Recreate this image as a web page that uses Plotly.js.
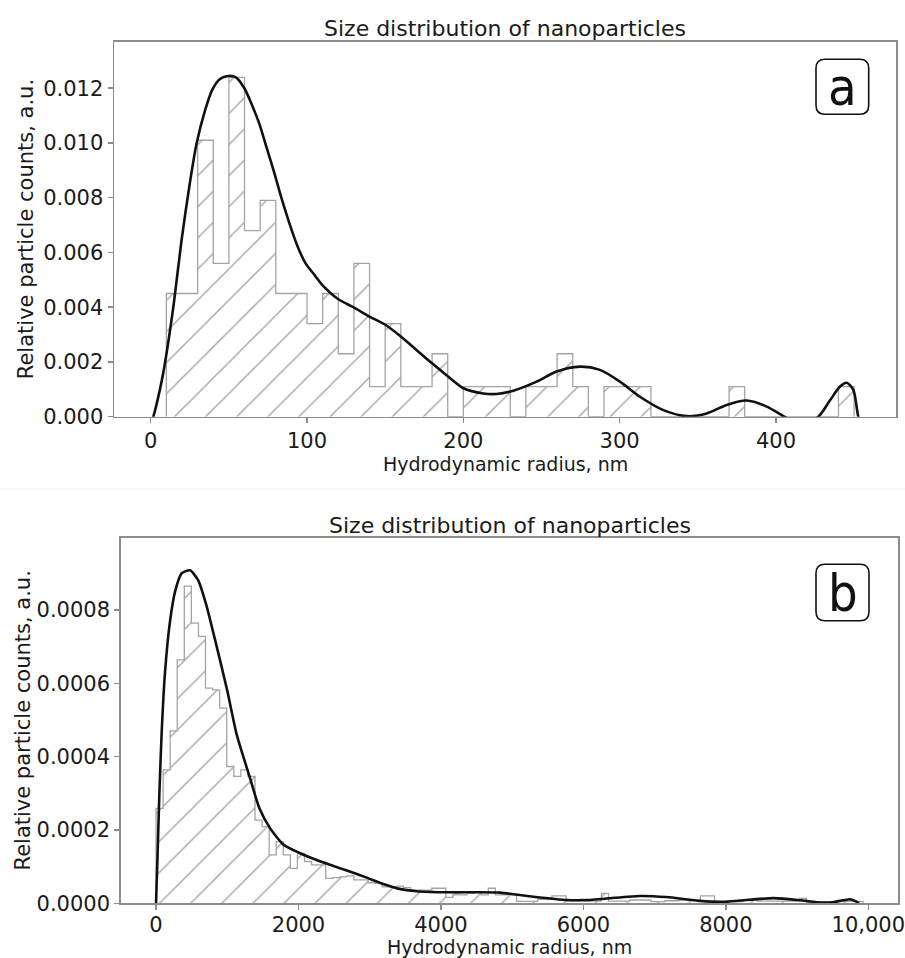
<!DOCTYPE html>
<html><head><meta charset="utf-8">
<script src="https://cdn.plot.ly/plotly-3.0.1.min.js"></script>
<style>html,body{margin:0;padding:0;background:#fff}#chart{width:905px;height:958px}</style>
</head><body><div id="chart"></div>
<script>
// ---------- Panel (a) ----------
const binWidthA = 10;
const binLeftA = [10,20,30,40,50,60,70,80,90,100,110,120,130,140,150,160,170,180,190,200,210,220,230,240,250,260,270,280,290,300,310,320,330,340,350,360,370,380,390,400,410,420,430,440];
const densityA = [0.0045,0.0045,0.0101,0.0056,0.0124,0.0068,0.0079,0.0045,0.0045,0.0034,0.0045,0.0023,0.0056,0.0011,0.0034,0.0011,0.0011,0.0023,0,0.0011,0.0011,0.0011,0,0.0011,0.0011,0.0023,0.0011,0,0.0011,0.0011,0.0011,0,0,0,0,0,0.0011,0,0,0,0,0,0,0.0011];
const kdeXA = [0,1.7,7,9.8,14.9,19.6,25.2,29.4,34.8,39.4,44.3,49.5,54.5,59.9,64.7,69.5,74.3,79.1,84.1,89.1,94.1,99.1,104.5,110,119.8,129.6,139.9,150.3,160,170,180,190.4,200,212.8,221.3,232,246.9,259.7,274.6,287.4,300.2,313,328,342.9,355.7,368.5,381.3,394.1,404.8,416,427.1,434.6,441,445.2,449.5,452.7,455];
const kdeYA = [-0.0003,0,0.0013,0.0022,0.0042,0.0064,0.0086,0.0100,0.0112,0.01195,0.01234,0.01245,0.0124,0.0120,0.0114,0.0107,0.0098,0.0089,0.0079,0.0070,0.0062,0.0056,0.0052,0.0048,0.0043,0.0040,0.00366,0.00335,0.00293,0.00244,0.00195,0.00146,0.00104,0.00085,0.00083,0.00095,0.00128,0.00165,0.00183,0.00171,0.00128,0.00073,0.00024,0.00002,0.00012,0.00043,0.00059,0.00037,0.00002,-0.0003,0,0.0006,0.0011,0.00124,0.00098,0,-0.0003];
const tickValsA = [0,100,200,300,400];
const tickTextA = ['0','100','200','300','400'];

// ---------- Panel (b) ----------
const binWidthB = 99.25;
const densityB = [0.000259,0.000364,0.00047,0.000664,0.000865,0.000764,0.000728,0.000587,0.000582,0.000532,
0.000373,0.000346,0.000364,0.000346,0.000227,0.000209,0.000132,0.000168,0.000132,0.000095,
0.000136,0.000114,0.000105,0.000105,0.000068,0.00007,0.000072,0.000075,0.000064,0.000064,
0.000056,0.000055,0.000045,0.000045,0.000047,0.000043,0.000036,0.000036,0.000036,0.000041,
0.000041,0.000016,0.000023,0.000023,0.000027,0.000029,0.000023,0.000041,0.000023,0.000023,
0.000023,0.000005,0.000005,0.000005,0.000011,0.000011,0.00002,0.00002,0.000007,0.000007,
0.000011,0.000006,0.000006,0.000027,0.000006,0.000006,0.000006,0.000009,0.000009,0.000009,
0.0000045,0.0000045,0.000007,0.000007,0.000009,0.000009,0.000009,0.00002,0.00002,0.0000045,
0.0000045,0.0000045,0.0000045,0.000009,0.000009,0.000006,0.000006,0.000006,0.000006,0.000006,
0.000006,0.0000136,0.000003,0.000003,0.000003,0.000003,0.0000055,0.0000055,0.0000055,0.0000055];
const kdeXB = [0,20,47,80,126,197,267,360,477,594,711,852,1000,1133,1306,1450,1600,1788,2008,2200,2443,2700,2957,3200,3400,3660,4127,4500,4830,5297,5765,6000,6326,6794,7165,7637,7965,8199,8667,9041,9275,9500,9744,9838,9870];
const kdeYB = [0,0.00012,0.0003,0.00047,0.00063,0.00077,0.00085,0.0009,0.000908,0.00088,0.00081,0.0007,0.00058,0.00046,0.00035,0.00026,0.000205,0.00016,0.000138,0.000122,0.000105,0.000088,0.00007,0.000052,0.00004,0.000033,0.00003,0.00003,0.000029,0.000018,0.000009,0.0000085,0.000013,0.00002,0.000017,0.0000065,0.000004,0.0000075,0.000014,0.0000085,0.000003,0.000003,0.000011,0.000004,0];
const tickValsB = [0,2000,4000,6000,8000,10000];
const tickTextB = ['0','2000','4000','6000','8000','10,000'];

const titleText = 'Size distribution of nanoparticles';
const xTitle = 'Hydrodynamic radius, nm';
const yTitle = 'Relative particle counts, a.u.';

function stepTrace(lefts, width, dens, xa, ya) {
  const x = [lefts[0]], y = [0];
  lefts.forEach((l, i) => { x.push(l); y.push(dens[i]); });
  x.push(lefts[lefts.length - 1] + width); y.push(0);
  return {
    type: 'scatter', mode: 'lines', x: x, y: y, xaxis: xa, yaxis: ya,
    line: {shape: 'hv', color: '#a3a3a3', width: 1.3},
    fill: 'tozeroy', fillcolor: 'rgba(255,255,255,0)',
    fillpattern: {shape: '/', fgcolor: '#a0a0a0', bgcolor: 'rgba(255,255,255,0)', size: 22, solidity: 0.06},
    hoverinfo: 'skip', showlegend: false
  };
}
const binLeftB = densityB.map((_, i) => i * binWidthB);

const traces = [
  stepTrace(binLeftA, binWidthA, densityA, 'x', 'y'),
  {type: 'scatter', mode: 'lines', x: kdeXA, y: kdeYA, xaxis: 'x', yaxis: 'y',
   line: {color: '#111', width: 2.6, shape: 'spline', smoothing: 0.8}, showlegend: false},
  stepTrace(binLeftB, binWidthB, densityB, 'x2', 'y2'),
  {type: 'scatter', mode: 'lines', x: kdeXB, y: kdeYB, xaxis: 'x2', yaxis: 'y2',
   line: {color: '#111', width: 2.6, shape: 'spline', smoothing: 0.6}, showlegend: false}
];

const W = 905, H = 958;
const FONT = 'DejaVu Sans, Verdana, sans-serif';
const TXT = '#1a1a1a';
const axisCommon = {
  showline: true, mirror: true, linecolor: '#8c8c8c', linewidth: 1.5,
  ticks: 'outside', ticklen: 5, tickwidth: 1.5, tickcolor: '#8c8c8c',
  showgrid: false, zeroline: false, automargin: false, ticklabeloverflow: 'allow',
  tickfont: {family: FONT, size: 21, color: TXT}
};
const px = v => v / W, py = v => 1 - v / H;

function roundBox(x0, y0, x1, y1, r) {
  const rx = r / W, ry = r / H;
  const X0 = px(x0), X1 = px(x1), Y0 = py(y0), Y1 = py(y1);
  return `M${X0 + rx},${Y0} L${X1 - rx},${Y0} Q${X1},${Y0} ${X1},${Y0 - ry} L${X1},${Y1 + ry} Q${X1},${Y1} ${X1 - rx},${Y1} L${X0 + rx},${Y1} Q${X0},${Y1} ${X0},${Y1 + ry} L${X0},${Y0 - ry} Q${X0},${Y0} ${X0 + rx},${Y0} Z`;
}
function note(text, x, y, size, extra) {
  return Object.assign({text: text, xref: 'paper', yref: 'paper', x: px(x), y: py(y),
    xanchor: 'center', yanchor: 'middle', showarrow: false,
    font: {family: FONT, size: size, color: TXT}}, extra || {});
}
const LETTER_FONT = {family: 'Liberation Sans Narrow, DejaVu Sans Condensed, DejaVu Sans, sans-serif', size: 52, color: '#111'};

const layout = {
  width: W, height: H,
  margin: {l: 0, r: 0, t: 0, b: 0},
  paper_bgcolor: '#fff', plot_bgcolor: '#fff',
  font: {family: FONT, color: TXT},
  showlegend: false,
  xaxis: Object.assign({}, axisCommon, {
    domain: [px(114), px(896)], range: [-23.5, 476.8], anchor: 'y',
    tickvals: tickValsA, ticktext: tickTextA
  }),
  yaxis: Object.assign({}, axisCommon, {
    domain: [py(416.7), py(41.7)], range: [0, 0.0137], anchor: 'x',
    tickformat: '.3f', dtick: 0.002, tick0: 0
  }),
  xaxis2: Object.assign({}, axisCommon, {
    domain: [px(120.7), px(898.3)], range: [-496, 10421], anchor: 'y2',
    tickvals: tickValsB, ticktext: tickTextB, ticklabelstandoff: -3
  }),
  yaxis2: Object.assign({}, axisCommon, {
    domain: [py(903.3), py(537.7)], range: [0, 0.000997], anchor: 'x2',
    tickformat: '.4f', dtick: 0.0002, tick0: 0
  }),
  annotations: [
    note(titleText, 505, 28.5, 22),
    note(titleText, 509.5, 525, 22),
    note(xTitle, 505, 464, 19),
    note(xTitle, 509.5, 958.5, 19, {yanchor: 'bottom', borderpad: 0}),
    note(yTitle, 26, 229.2, 21, {textangle: -90}),
    note(yTitle, 22, 720.5, 21, {textangle: -90}),
    {text: 'a', xref: 'paper', yref: 'paper', x: px(842.3), y: py(86.8), xanchor: 'center', yanchor: 'middle', showarrow: false, font: LETTER_FONT},
    {text: 'b', xref: 'paper', yref: 'paper', x: px(842.5), y: py(592.5), xanchor: 'center', yanchor: 'middle', showarrow: false, font: LETTER_FONT}
  ],
  shapes: [
    {type: 'path', xref: 'paper', yref: 'paper', path: roundBox(816, 59.3, 868.7, 114.3, 9), line: {color: '#111', width: 1.6}},
    {type: 'path', xref: 'paper', yref: 'paper', path: roundBox(816, 564.3, 869, 620.7, 9), line: {color: '#111', width: 1.6}},
    {type: 'line', xref: 'paper', yref: 'paper', x0: 0, x1: 1, y0: py(489), y1: py(489), line: {color: '#ececec', width: 1}}
  ]
};

Plotly.newPlot('chart', traces, layout, {staticPlot: true, displayModeBar: false});
</script>
</body></html>
